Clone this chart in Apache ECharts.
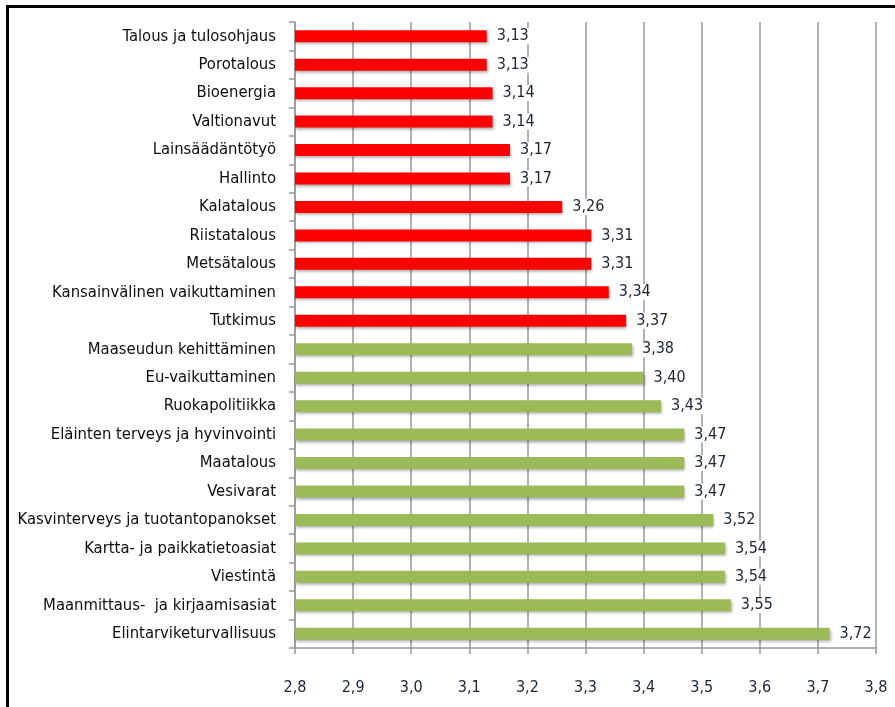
<!DOCTYPE html>
<html>
<head>
<meta charset="utf-8">
<script src="https://cdn.jsdelivr.net/npm/echarts@6/dist/echarts.min.js"></script>
<style>
  html, body { margin: 0; padding: 0; background: #fff; }
  #main { width: 895px; height: 707px; }
</style>
</head>
<body>
<div id="main"></div>
<script>
// categories top to bottom
const categories = [
  'Talous ja tulosohjaus', 'Porotalous', 'Bioenergia', 'Valtionavut',
  'Lainsäädäntötyö', 'Hallinto', 'Kalatalous', 'Riistatalous',
  'Metsätalous', 'Kansainvälinen vaikuttaminen', 'Tutkimus',
  'Maaseudun kehittäminen', 'Eu-vaikuttaminen', 'Ruokapolitiikka',
  'Eläinten terveys ja hyvinvointi', 'Maatalous', 'Vesivarat',
  'Kasvinterveys ja tuotantopanokset', 'Kartta- ja paikkatietoasiat',
  'Viestintä', 'Maanmittaus-  ja kirjaamisasiat', 'Elintarviketurvallisuus'
]
const values = [
  3.13, 3.13, 3.14, 3.14, 3.17, 3.17, 3.26, 3.31, 3.31, 3.34, 3.37,
  3.38, 3.40, 3.43, 3.47, 3.47, 3.47, 3.52, 3.54, 3.54, 3.55, 3.72
]
// how many of the top bars are red
const redCount = 11
const xTickLabels = ['2,8', '2,9', '3,0', '3,1', '3,2', '3,3', '3,4', '3,5', '3,6', '3,7', '3,8']

const FONT = '"Liberation Sans Narrow", "DejaVu Sans Condensed", "Open Sans", sans-serif'

let myChart = echarts.init(document.getElementById('main'))
myChart.setOption({
  animation: false,
  graphic: [{
    type: 'rect',
    shape: { x: 7.5, y: 6.5, width: 1000, height: 1000 },
    style: { fill: 'none', stroke: '#000', lineWidth: 3 },
    z: 100
  }],
  grid: { left: 295, right: 19, top: 22, bottom: 59 },
  xAxis: {
    type: 'value',
    min: 2.8,
    max: 3.8,
    interval: 0.1,
    axisLine: { show: true, lineStyle: { color: '#999', width: 1.5 } },
    axisTick: { show: true, length: 6, lineStyle: { color: '#999', width: 1.5 } },
    splitLine: { show: true, lineStyle: { color: '#999', width: 1.5 } },
    axisLabel: {
      margin: 32,
      color: '#1c2436',
      fontFamily: FONT,
      fontSize: 16,
      formatter: (v) => xTickLabels[Math.round((v - 2.8) * 10)]
    }
  },
  yAxis: {
    type: 'category',
    inverse: true,
    data: categories,
    axisLine: { show: true, lineStyle: { color: '#999', width: 1.5 } },
    axisTick: { show: true, length: 6, lineStyle: { color: '#999', width: 1.5 } },
    axisLabel: {
      margin: 19,
      color: '#0d0d14',
      fontFamily: FONT,
      fontSize: 16.5
    }
  },
  series: [{
    type: 'bar',
    data: values.map((v, i) => ({
      value: v,
      itemStyle: { color: i < redCount ? '#ff0000' : '#9bbb59' }
    })),
    barWidth: 12,
    itemStyle: {
      shadowColor: 'rgba(0,0,0,0.35)',
      shadowBlur: 3,
      shadowOffsetY: 2,
      shadowOffsetX: 1
    },
    label: {
      show: true,
      position: 'right',
      distance: 8,
      color: '#1c2436',
      fontFamily: FONT,
      fontSize: 16,
      backgroundColor: '#fff',
      padding: [0, 2],
      formatter: (p) => p.value.toFixed(2).replace('.', ',')
    }
  }]
})
</script>
</body>
</html>
